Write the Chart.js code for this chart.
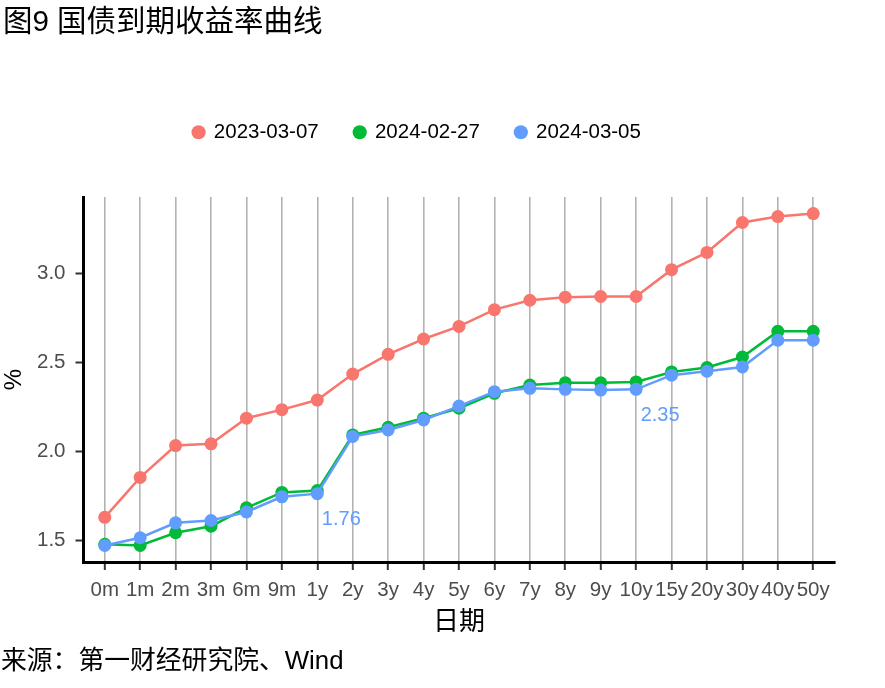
<!DOCTYPE html>
<html lang="zh">
<head>
    <meta charset="UTF-8">
    <script src="https://cdn.jsdelivr.net/npm/chart.js"></script>
    <title>国债到期收益率曲线</title>
<style>
body {
    margin: 0;
    background: #fff;
}
.wrap {
    position: relative;
    width: 885px;
    height: 688px;
    font-family: 'Liberation Sans', Arial, 'Noto Sans CJK SC', sans-serif;
}
#title {
    position: absolute;
    left: 3px;
    top: 5px;
    font-size: 29.5px;
    line-height: 32px;
    color: #000;
}
#source {
    position: absolute;
    left: 1px;
    top: 646px;
    font-size: 25.8px;
    line-height: 28px;
    color: #000;
}
canvas {
    position: absolute;
    left: 0;
    top: 0;
}
</style>
</head>
<body>
    <div class="wrap">
        <canvas id="curve" width="885" height="688"></canvas>
        <div id="title">图9 国债到期收益率曲线</div>
        <div id="source">来源：第一财经研究院、Wind</div>
    </div>

    <script>
        // 期限
        var tenors = ['0m', '1m', '2m', '3m', '6m', '9m', '1y', '2y', '3y', '4y', '5y',
                      '6y', '7y', '8y', '9y', '10y', '15y', '20y', '30y', '40y', '50y'];

        var seriesNames = ['2023-03-07', '2024-02-27', '2024-03-05'];
        var seriesColors = ['#F8766D', '#00BA38', '#619CFF'];

        // 收益率 (%)
        var yields2023 = [1.630, 1.854, 2.033, 2.043, 2.187, 2.235, 2.289, 2.435, 2.546, 2.632, 2.703,
                          2.797, 2.850, 2.867, 2.871, 2.871, 3.022, 3.119, 3.287, 3.320, 3.337];
        var yields0227 = [1.478, 1.472, 1.543, 1.580, 1.683, 1.770, 1.780, 2.093, 2.136, 2.187, 2.243,
                          2.327, 2.373, 2.386, 2.386, 2.391, 2.447, 2.472, 2.531, 2.675, 2.675];
        var yields0305 = [1.472, 1.515, 1.599, 1.612, 1.660, 1.745, 1.763, 2.084, 2.121, 2.177, 2.255,
                          2.336, 2.355, 2.349, 2.345, 2.349, 2.429, 2.451, 2.475, 2.625, 2.625];

        var yTicks = [1.5, 2.0, 2.5, 3.0];
        // points of the latest curve that get a value label
        var labelIdx = [6, 15];

        var allYields = [yields2023, yields0227, yields0305];
        var lo = Math.min.apply(null, allYields.flat());
        var hi = Math.max.apply(null, allYields.flat());
        var pad = (hi - lo) * 0.05;

        var font = "'Liberation Sans', Arial, 'Noto Sans CJK SC', sans-serif";

        function toPoints(arr) {
            return arr.map(function (v, i) { return { x: i, y: v }; });
        }

        var datasets = allYields.map(function (arr, k) {
            return {
                label: seriesNames[k],
                data: toPoints(arr),
                borderColor: seriesColors[k],
                backgroundColor: seriesColors[k],
                pointBackgroundColor: seriesColors[k],
                pointBorderWidth: 0,
                pointRadius: 6.5,
                pointHoverRadius: 6.5,
                borderWidth: 2.5,
                order: 3 - k
            };
        });

        // value labels next to chosen points
        var pointLabels = {
            id: 'pointLabels',
            afterDatasetsDraw: function (chart) {
                var ctx = chart.ctx;
                var xs = chart.scales.x, ys = chart.scales.y;
                ctx.save();
                ctx.font = '20px ' + font;
                ctx.fillStyle = seriesColors[2];
                ctx.textAlign = 'center';
                ctx.textBaseline = 'middle';
                labelIdx.forEach(function (i) {
                    var v = yields0305[i];
                    ctx.fillText(v.toFixed(2), xs.getPixelForValue(i) + 24, ys.getPixelForValue(v) + 26);
                });
                ctx.restore();
            }
        };

        // extra room under the legend
        var legendGap = {
            id: 'legendGap',
            beforeInit: function (chart) {
                var fit = chart.legend.fit;
                chart.legend.fit = function () {
                    fit.call(this);
                    this.height += 44.5;
                };
            }
        };

        new Chart(document.getElementById('curve').getContext('2d'), {
            type: 'line',
            data: { datasets: datasets },
            plugins: [pointLabels, legendGap],
            options: {
                responsive: false,
                animation: false,
                events: [],
                layout: { padding: { top: 86, right: 50.5, bottom: 46, left: 0 } },
                plugins: {
                    legend: {
                        position: 'top',
                        labels: {
                            usePointStyle: true,
                            pointStyle: 'circle',
                            boxWidth: 10,
                            boxHeight: 10,
                            padding: 36,
                            color: '#000',
                            font: { size: 20.5, family: font },
                            sort: function (a, b) { return a.datasetIndex - b.datasetIndex; }
                        }
                    },
                    tooltip: { enabled: false }
                },
                scales: {
                    x: {
                        type: 'linear',
                        min: -0.6,
                        max: tenors.length - 0.4,
                        afterBuildTicks: function (scale) {
                            scale.ticks = tenors.map(function (t, i) { return { value: i }; });
                        },
                        afterFit: function (scale) { scale.height = 80; },
                        ticks: {
                            autoSkip: false,
                            maxRotation: 0,
                            padding: 8,
                            color: '#4d4d4d',
                            font: { size: 20.5, family: font },
                            callback: function (v) { return tenors[v]; }
                        },
                        grid: {
                            color: '#b3b3b3',
                            lineWidth: 1.6,
                            tickColor: '#333',
                            tickWidth: 2,
                            tickLength: 8
                        },
                        border: { display: true, color: '#000', width: 3 },
                        title: {
                            display: true,
                            text: '日期',
                            color: '#000',
                            padding: 4,
                            font: { size: 26, family: font }
                        }
                    },
                    y: {
                        min: lo - pad,
                        max: hi + pad,
                        afterBuildTicks: function (scale) {
                            scale.ticks = yTicks.map(function (v) { return { value: v }; });
                        },
                        afterFit: function (scale) { scale.width = 83.5; },
                        ticks: {
                            padding: 10,
                            color: '#4d4d4d',
                            font: { size: 20.5, family: font },
                            callback: function (v) { return v.toFixed(1); }
                        },
                        grid: {
                            drawOnChartArea: false,
                            tickColor: '#333',
                            tickWidth: 2,
                            tickLength: 8
                        },
                        border: { display: true, color: '#000', width: 3 },
                        title: {
                            display: true,
                            text: '%',
                            color: '#000',
                            padding: 0,
                            font: { size: 24, family: font }
                        }
                    }
                }
            }
        });
    </script>
</body>
</html>
